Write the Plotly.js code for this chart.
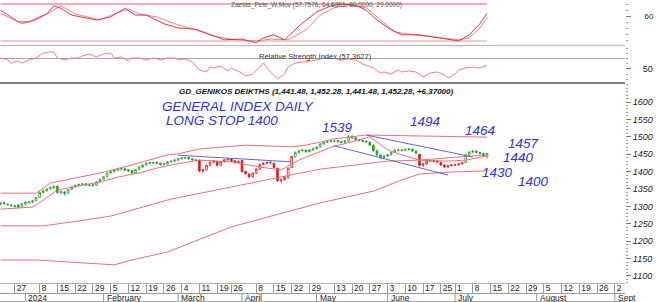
<!DOCTYPE html>
<html><head><meta charset="utf-8">
<script src="https://cdn.plot.ly/plotly-3.0.1.min.js"></script>
<style>html,body{margin:0;padding:0;background:#fff}#chart{width:656px;height:302px}</style>
</head><body><div id="chart"></div>
<script>
// ---------- trading days ----------
const dates = [
'2023-12-19','2023-12-20','2023-12-21','2023-12-22','2023-12-27','2023-12-28','2023-12-29',
'2024-01-02','2024-01-03','2024-01-04','2024-01-05','2024-01-08','2024-01-09','2024-01-10','2024-01-11','2024-01-12',
'2024-01-15','2024-01-16','2024-01-17','2024-01-18','2024-01-19','2024-01-22','2024-01-23','2024-01-24','2024-01-25','2024-01-26',
'2024-01-29','2024-01-30','2024-01-31','2024-02-01','2024-02-02','2024-02-05','2024-02-06','2024-02-07','2024-02-08','2024-02-09',
'2024-02-12','2024-02-13','2024-02-14','2024-02-15','2024-02-16','2024-02-19','2024-02-20','2024-02-21','2024-02-22','2024-02-23',
'2024-02-26','2024-02-27','2024-02-28','2024-02-29','2024-03-01','2024-03-04','2024-03-05','2024-03-06','2024-03-07','2024-03-08',
'2024-03-11','2024-03-12','2024-03-13','2024-03-14','2024-03-15','2024-03-19','2024-03-20','2024-03-21','2024-03-22',
'2024-03-26','2024-03-27','2024-03-28','2024-04-02','2024-04-03','2024-04-04','2024-04-05',
'2024-04-08','2024-04-09','2024-04-10','2024-04-11','2024-04-12','2024-04-15','2024-04-16','2024-04-17','2024-04-18','2024-04-19',
'2024-04-22','2024-04-23','2024-04-24','2024-04-25','2024-04-26','2024-04-29','2024-04-30','2024-05-02',
'2024-05-07','2024-05-08','2024-05-09','2024-05-10','2024-05-13','2024-05-14','2024-05-15','2024-05-16','2024-05-17',
'2024-05-20','2024-05-21','2024-05-22','2024-05-23','2024-05-24','2024-05-27','2024-05-28','2024-05-29','2024-05-30','2024-05-31',
'2024-06-03','2024-06-04','2024-06-05','2024-06-06','2024-06-07','2024-06-10','2024-06-11','2024-06-12','2024-06-13','2024-06-14',
'2024-06-17','2024-06-18','2024-06-19','2024-06-20','2024-06-21','2024-06-25','2024-06-26','2024-06-27','2024-06-28',
'2024-07-01','2024-07-02','2024-07-03','2024-07-04','2024-07-05','2024-07-08','2024-07-09','2024-07-10','2024-07-11','2024-07-12'];

const open = [1306,1311,1306,1301,1302,1304,1298,1307,1311,1312,1316,1326,1340,1345,1350,1353,1358,1339,1341,1338,1349,1356,1360,1363,1365,1360,
1363,1361,1370,1378,1385,1396,1400,1404,1407,1408,1405,1403,1396,1406,1413,1419,1424,1425,1427,1424,1420,1422,1428,1430,1433,1437,1439,1441,1437,1434,
1433,1401,1405,1418,1427,1429,1418,1428,1434,1437,1431,1426,1432,1400,1393,1385,1395,1407,1420,1424,1427,1424,1410,1374,1377,1383,
1412,1443,1455,1460,1462,1457,1462,1466,1471,1479,1484,1487,1488,1489,1486,1484,1488,1501,1497,1492,1490,1487,1485,1476,1460,1448,1440,
1445,1448,1455,1462,1462,1461,1463,1465,1459,1450,1418,1422,1430,1431,1430,1427,1419,1413,1417,1419,1419,1422,1426,1448,1456,1459,1455,1452,1441.48];
const high = [1312,1313,1309,1307,1304,1305,1310,1315,1316,1319,1328,1343,1348,1352,1357,1360,1360,1346,1344,1350,1358,1363,1366,1368,1367,1365,
1366,1373,1381,1388,1398,1403,1407,1410,1411,1410,1407,1404,1408,1415,1421,1427,1428,1429,1428,1426,1425,1430,1432,1436,1440,1442,1443,1442,1439,1436,
1434,1408,1420,1429,1432,1430,1430,1436,1439,1438,1432,1433,1434,1403,1396,1398,1410,1423,1427,1429,1429,1425,1411,1380,1387,1412,
1446,1458,1463,1465,1463,1465,1469,1473,1482,1487,1490,1491,1492,1490,1488,1491,1505,1506,1499,1494,1492,1490,1487,1478,1462,1450,1448,
1451,1458,1465,1466,1464,1467,1468,1466,1460,1451,1425,1433,1434,1434,1432,1428,1421,1420,1422,1423,1425,1428,1450,1459,1462,1461,1457,1454,1452.28];
const low = [1303,1305,1302,1300,1297,1294,1297,1305,1308,1310,1315,1325,1337,1342,1348,1351,1336,1334,1331,1336,1346,1354,1357,1360,1358,1357,
1356,1359,1368,1376,1384,1393,1397,1401,1404,1401,1399,1393,1394,1404,1411,1417,1421,1422,1421,1417,1418,1420,1425,1428,1431,1434,1436,1434,1431,1429,
1398,1397,1403,1416,1424,1415,1416,1426,1431,1428,1422,1424,1396,1390,1380,1383,1393,1405,1418,1421,1421,1409,1370,1368,1374,1380,
1410,1441,1452,1457,1454,1455,1460,1464,1469,1477,1482,1484,1485,1483,1481,1482,1486,1494,1489,1486,1484,1482,1473,1457,1445,1436,1437,
1442,1446,1453,1458,1457,1459,1460,1456,1450,1414,1413,1420,1427,1426,1424,1416,1410,1411,1415,1416,1417,1420,1425,1446,1453,1452,1449,1443,1441.48];
const close = [1310,1308,1305,1303,1300,1297,1308,1312,1313,1316,1325,1340,1345,1350,1354,1357,1340,1342,1338,1348,1356,1360,1363,1364,1361,1362,
1360,1370,1378,1385,1396,1400,1404,1407,1408,1404,1402,1396,1406,1413,1419,1424,1425,1426,1424,1420,1422,1428,1430,1433,1437,1439,1440,1437,1434,1432,
1402,1405,1418,1427,1430,1418,1428,1434,1436,1430,1426,1428,1400,1394,1385,1395,1407,1420,1424,1426,1426,1412,1374,1376,1383,1410,
1443,1455,1460,1462,1457,1462,1466,1470,1479,1484,1487,1488,1488,1486,1484,1488,1500,1497,1492,1490,1487,1485,1476,1460,1448,1440,1445,
1448,1455,1462,1462,1461,1463,1465,1459,1453,1418,1422,1430,1431,1430,1428,1419,1413,1417,1419,1419,1422,1426,1448,1456,1459,1455,1452,1445.91,1452.28];
// trend colour of each candle (g = green, r = red)
const trend = ('g'.repeat(56) + 'r'.repeat(27) + 'g'.repeat(35) + 'r'.repeat(13) + 'g'.repeat(7)).split('');

// ---------- bands ----------
const upperX = ['2023-12-19','2024-01-05','2024-01-11','2024-01-31','2024-02-13','2024-02-27','2024-03-01','2024-03-11','2024-04-03','2024-04-22','2024-04-26','2024-05-13','2024-05-24','2024-06-14','2024-07-12'];
const upperY = [1338,1338,1367,1396,1419,1448,1451,1465,1476,1471,1476,1494,1505,1502,1499];
const midX = ['2023-12-19','2024-01-04','2024-01-09','2024-01-15','2024-01-24','2024-01-31','2024-02-07','2024-02-15','2024-02-22','2024-02-28','2024-03-11','2024-03-26','2024-04-09','2024-04-17','2024-04-24','2024-05-10','2024-05-22','2024-05-27','2024-06-03','2024-06-07','2024-06-14','2024-06-27','2024-07-04','2024-07-12'];
const midY = [1292,1298,1318,1347,1361,1370,1384,1396,1410,1419,1433,1428,1413,1405,1433,1470,1491,1500,1462,1448,1433,1430,1433,1445];
const lowX = ['2023-12-19','2024-01-09','2024-01-23','2024-02-05','2024-02-28','2024-04-02','2024-05-07','2024-06-03','2024-06-14','2024-07-12'];
const lowY = [1244,1244,1258,1272,1321,1361,1407,1430,1433,1448];
const bottomX = ['2023-12-19','2024-01-05','2024-02-06','2024-02-13','2024-02-27','2024-03-26','2024-05-07','2024-05-28','2024-06-07','2024-06-14','2024-06-28','2024-07-12'];
const bottomY = [1146,1146,1132,1146,1169,1241,1310,1344,1376,1393,1399,1402];

// ---------- trend lines (blue) ----------
const resistX = ['2024-03-01','2024-04-22']; const resistY = [1447,1428];
const chanUpX = ['2024-05-24','2024-07-08']; const chanUpY = [1505,1442];
const chanLoX = ['2024-05-13','2024-06-27']; const chanLoY = [1474,1390];

// ---------- oscillators ----------
const stochFastX = ['2023-12-19','2023-12-28','2024-01-03','2024-01-10','2024-01-12','2024-01-16','2024-01-19','2024-01-30','2024-02-05','2024-02-08','2024-02-09','2024-02-14','2024-02-19','2024-02-26','2024-03-01','2024-03-08','2024-03-14','2024-03-21','2024-04-02','2024-04-08','2024-04-10','2024-04-15','2024-04-18','2024-04-24','2024-05-02','2024-05-10','2024-05-15','2024-05-21','2024-05-24','2024-05-29','2024-06-04','2024-06-07','2024-06-14','2024-06-25','2024-06-28','2024-07-02','2024-07-05','2024-07-10','2024-07-12'];
const stochFastY = [70,51,51,64,77,73,62,54,59,70,73,62,62,48,41,39,30,22,23,17,25,30,22,44,67,77,80,78,70,54,38,30,30,25,22,20,30,48,64.64];
const stochSlowX = ['2023-12-19','2023-12-29','2024-01-05','2024-01-11','2024-01-16','2024-01-22','2024-01-31','2024-02-06','2024-02-12','2024-02-15','2024-02-22','2024-02-29','2024-03-08','2024-03-15','2024-03-27','2024-04-08','2024-04-12','2024-04-19','2024-04-26','2024-05-07','2024-05-13','2024-05-17','2024-05-24','2024-05-30','2024-06-05','2024-06-11','2024-06-19','2024-06-28','2024-07-02','2024-07-05','2024-07-10','2024-07-12'];
const stochSlowY = [65,48,54,67,77,64,54,64,72,64,59,48,38,28,22,20,23,22,38,62,74,78,74,54,35,31,27,23,22,25,41,57.76];
const stochLevels = [80, 20];
const rsiX = ['2023-12-19','2023-12-21','2023-12-22','2023-12-28','2023-12-29','2024-01-03','2024-01-05','2024-01-09','2024-01-11','2024-01-12','2024-01-15','2024-01-17','2024-01-19','2024-01-23','2024-01-24','2024-01-26','2024-01-30','2024-02-01','2024-02-05','2024-02-06','2024-02-08','2024-02-12','2024-02-13','2024-02-15','2024-02-19','2024-02-21','2024-02-23','2024-02-27','2024-02-29','2024-03-01','2024-03-05','2024-03-07','2024-03-11','2024-03-13','2024-03-14','2024-03-15','2024-03-20','2024-03-22','2024-03-26','2024-04-02','2024-04-03','2024-04-05','2024-04-09','2024-04-10','2024-04-12','2024-04-16','2024-04-18','2024-04-19','2024-04-23','2024-04-25','2024-04-29','2024-05-02','2024-05-08','2024-05-10','2024-05-15','2024-05-17','2024-05-21','2024-05-23','2024-05-28','2024-05-30','2024-05-31','2024-06-04','2024-06-06','2024-06-07','2024-06-11','2024-06-13','2024-06-17','2024-06-19','2024-06-21','2024-06-26','2024-06-27','2024-07-01','2024-07-02','2024-07-04','2024-07-08','2024-07-10','2024-07-12'];
const rsiY = [71,67.1,61.4,65.2,61.4,67.1,71,80.5,82.4,82.4,71,67.1,71,71,74.8,78.6,72.9,78.6,80.5,71,72.9,65.2,71,71,67.1,71,67.1,71,71,67.1,69,63.3,48.1,44.3,53.8,51.9,55.7,46.2,51.9,42.4,36.7,40.5,53.8,61.4,44.3,31,40.5,53.8,61.4,63.3,65.2,67.1,71,71,67.1,69,67.1,59.5,51.9,42.4,44.3,40.5,48.1,44.3,46.2,44.3,34.8,42.4,44.3,38.6,32.9,40.5,48.1,51.9,53.8,51.9,57.36];
const rsiLevel = 70;

// ---------- axis labels ----------
const holidays = ['2023-12-25','2023-12-26','2024-01-01','2024-03-18','2024-03-25','2024-03-29','2024-04-01','2024-05-01','2024-05-03','2024-05-06','2024-06-24'];
const weekTicks = ['2023-12-27','2024-01-08','2024-01-15','2024-01-22','2024-01-29','2024-02-05','2024-02-12','2024-02-19','2024-02-26','2024-03-04','2024-03-11','2024-03-19','2024-03-26','2024-04-08','2024-04-15','2024-04-22','2024-04-29','2024-05-13','2024-05-20','2024-05-27','2024-06-03','2024-06-10','2024-06-17','2024-06-25','2024-07-01','2024-07-08','2024-07-15','2024-07-22','2024-07-29','2024-08-05','2024-08-12','2024-08-19','2024-08-26','2024-09-02'];
const weekLabels = ['27','8','15','22','29','5','12','19','26','4','11','19','26','8','15','22','29','13','20','27','3','10','17','25','1','8','15','22','29','5','12','19','26','2'];
const monthTicks = ['2024-01-02','2024-02-01','2024-03-01','2024-04-02','2024-05-02','2024-06-03','2024-07-01','2024-08-01','2024-09-02'];
const monthLabels = ['2024','February','March','April','May','June','July','August','Sept'];
const priceTicks = [1100,1150,1200,1250,1300,1350,1400,1450,1500,1550,1600];

// ---------- build ----------
const W = 625, H = 302;
const px = x => x / W, py = y => (H - y) / H;
const RED = '#e8707a', BLUE = '#5a66e0', G = '#2a9e2a', R = '#e01818';
const traces = [];
function candles(col, letter) {
  const idx = trend.map((t, i) => t === letter ? i : -1).filter(i => i >= 0);
  return {type: 'candlestick', xaxis: 'x', yaxis: 'y', x: idx.map(i => dates[i]),
    open: idx.map(i => open[i]), high: idx.map(i => high[i]), low: idx.map(i => low[i]), close: idx.map(i => close[i]),
    increasing: {line: {color: col, width: 0.8}, fillcolor: '#ffffff'},
    decreasing: {line: {color: col, width: 0.8}, fillcolor: col},
    whiskerwidth: 0, hoverinfo: 'skip', showlegend: false};
}
function line(x, y, color, yaxis, width) {
  return {type: 'scatter', mode: 'lines', x: x, y: y, xaxis: 'x', yaxis: yaxis,
    line: {color: color, width: width || 1}, hoverinfo: 'skip', showlegend: false};
}
traces.push(line(upperX, upperY, RED, 'y'));
traces.push(line(midX, midY, RED, 'y'));
traces.push(line(lowX, lowY, RED, 'y'));
traces.push(line(bottomX, bottomY, RED, 'y'));
traces.push(line(resistX, resistY, BLUE, 'y'));
traces.push(line(chanUpX, chanUpY, BLUE, 'y'));
traces.push(line(chanLoX, chanLoY, BLUE, 'y'));
traces.push(candles(G, 'g'));
traces.push(candles(R, 'r'));
traces.push(line([dates[0], dates[dates.length - 1]], [stochLevels[0], stochLevels[0]], '#e05a64', 'y3'));
traces.push(line([dates[0], dates[dates.length - 1]], [stochLevels[1], stochLevels[1]], '#f6b8bc', 'y3', 1.5));
traces.push(line(stochSlowX, stochSlowY, '#f08088', 'y3'));
traces.push(line(stochFastX, stochFastY, '#d83a48', 'y3'));
traces.push(line(['2023-12-18', '2024-09-05'], [rsiLevel, rsiLevel], '#a8a0d8', 'y2'));
traces.push(line(rsiX, rsiY, '#f08088', 'y2'));

const lab = {family: 'Liberation Sans, Arial, sans-serif', size: 8.5, color: '#222'};
const rb = [{bounds: ['sat', 'mon']}, {values: holidays}];
const xr = ['2023-12-18 20:00', '2024-09-04 21:00'];
const hand = (text, x, y) => ({text: text, x: px(x), y: py(y), xref: 'paper', yref: 'paper', showarrow: false,
  xanchor: 'center', yanchor: 'middle', font: {family: 'Liberation Sans, Arial', size: 13.5, style: 'italic', color: '#3232d8'}});

const shapes = [
  {type: 'line', xref: 'paper', yref: 'paper', x0: 0, x1: 1, y0: py(45.5), y1: py(45.5), line: {color: '#c0c0c0', width: 1.5}},
  {type: 'line', xref: 'paper', yref: 'paper', x0: 0, x1: 1, y0: py(83), y1: py(83), line: {color: '#808080', width: 2}},
  {type: 'line', xref: 'paper', yref: 'paper', x0: 0, x1: 1, y0: py(283.5), y1: py(283.5), line: {color: '#b0b0b0', width: 1}},
  {type: 'line', xref: 'paper', yref: 'paper', x0: 0, x1: 1, y0: py(301.5), y1: py(301.5), line: {color: '#b0b0b0', width: 1}}
];
const annotations = [
  {text: 'Zaetas_Pele_W.Mov (57.7576, 64.6361, 80.0000, 20.0000)', x: px(316), y: py(5), xref: 'paper', yref: 'paper', showarrow: false,
    xanchor: 'center', yanchor: 'middle', font: {family: 'Liberation Sans, Arial', size: 6.5, color: '#555'}},
  {text: 'Relative Strength Index (57.3627)', x: px(315), y: py(57), xref: 'paper', yref: 'paper', showarrow: false,
    xanchor: 'center', yanchor: 'middle', font: {family: 'Liberation Sans, Arial', size: 7.5, color: '#333'}},
  {text: 'GD_GENIKOS DEIKTHS (1,441.48, 1,452.28, 1,441.48, 1,452.28, +6.37000)', x: px(316), y: py(91), xref: 'paper', yref: 'paper', showarrow: false,
    xanchor: 'center', yanchor: 'middle', font: {family: 'Liberation Sans, Arial', size: 8, weight: 'bold', style: 'italic', color: '#111'}},
  hand('GENERAL INDEX DAILY', 238, 106),
  hand('LONG STOP 1400', 222, 120),
  hand('1539', 337, 127),
  hand('1494', 425, 121),
  hand('1464', 480, 130),
  hand('1457', 523, 143),
  hand('1440', 518, 157),
  hand('1430', 498, 173),
  hand('1400', 533, 181)
];
monthTicks.forEach((d, i) => {
  shapes.push({type: 'line', xref: 'x', yref: 'paper', x0: d, x1: d, y0: py(301.5), y1: py(293), line: {color: '#9a9a9a', width: 1}});
  annotations.push({text: monthLabels[i], x: d, xref: 'x', y: py(297.5), yref: 'paper', showarrow: false,
    xanchor: 'left', yanchor: 'middle', xshift: 1, font: lab});
});

const layout = {
  width: 656, height: 302, margin: {l: 0, r: 31, t: 0, b: 0}, paper_bgcolor: '#fff', plot_bgcolor: '#fff',
  showlegend: false, font: lab,
  xaxis: {type: 'date', range: xr, rangebreaks: rb, rangeslider: {visible: false}, anchor: 'free', position: 9 / H,
    showline: true, linecolor: '#9a9a9a', ticks: 'inside', ticklen: 9, tickcolor: '#9a9a9a', tickwidth: 1,
    tickmode: 'array', tickvals: weekTicks, ticktext: weekLabels, tickangle: 0, ticklabelposition: 'inside right',
    ticklabelstandoff: -4, ticklabelshift: 1,
    tickfont: lab, showgrid: false, zeroline: false, fixedrange: true},
  yaxis: {domain: [19 / H, 219 / H], range: [1079.8, 1654.6], side: 'right', anchor: 'x', showgrid: false, zeroline: false,
    tickmode: 'array', tickvals: priceTicks, ticks: 'outside', ticklen: 5, tickcolor: '#777',
    minor: {dtick: 10, tick0: 1100, ticks: 'outside', ticklen: 2, tickcolor: '#999'},
    tickfont: {family: 'Liberation Sans, Arial', size: 9, style: 'italic', color: '#222'}, showline: false},
  yaxis2: {domain: [(H - 82) / H, (H - 47) / H], range: [25.2, 91.9], side: 'right', anchor: 'x', showgrid: false, zeroline: false,
    tickmode: 'array', tickvals: [50], ticks: 'outside', ticklen: 5, tickcolor: '#777', ticklabelstandoff: 10,
    minor: {dtick: 10, ticks: 'outside', ticklen: 2, tickcolor: '#999'},
    tickfont: {family: 'Liberation Sans, Arial', size: 9, color: '#222'}},
  yaxis3: {domain: [(H - 44) / H, 1], range: [15.1, 86.5], side: 'right', anchor: 'x', showgrid: false, zeroline: false,
    tickmode: 'array', tickvals: [60], ticks: 'outside', ticklen: 5, tickcolor: '#777', ticklabelstandoff: 12,
    minor: {dtick: 10, ticks: 'outside', ticklen: 2, tickcolor: '#999'},
    tickfont: {family: 'Liberation Sans, Arial', size: 8, color: '#222'}},
  shapes: shapes,
  annotations: annotations
};
Plotly.newPlot('chart', traces, layout, {displayModeBar: false, staticPlot: true});
</script></body></html>
